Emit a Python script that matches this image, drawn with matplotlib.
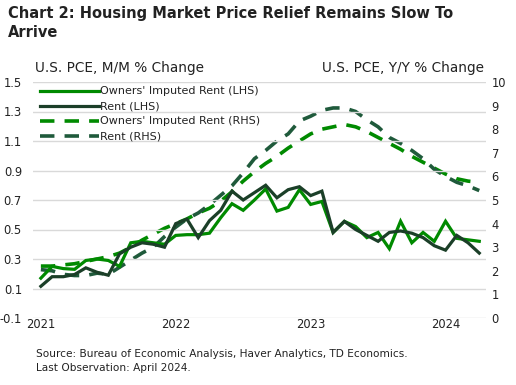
import matplotlib
matplotlib.use("Agg")
import matplotlib.pyplot as plt
import numpy as np
import pandas as pd

# ---- data (monthly, Jan 2021 - Apr 2024) ----
months = pd.date_range("2021-01-01", "2024-04-01", freq="MS")

owners_mm = [0.17, 0.25, 0.235, 0.23, 0.29, 0.30, 0.29, 0.25, 0.41, 0.42,
             0.41, 0.40, 0.46, 0.465, 0.465, 0.475, 0.58, 0.675, 0.63, 0.70,
             0.775, 0.625, 0.65, 0.77, 0.67, 0.69, 0.48, 0.555, 0.52, 0.445,
             0.48, 0.37, 0.556, 0.41, 0.48, 0.42, 0.556, 0.44, 0.43, 0.42]
rent_mm = [0.115, 0.18, 0.18, 0.195, 0.24, 0.21, 0.19, 0.335, 0.38, 0.41,
           0.40, 0.38, 0.54, 0.57, 0.445, 0.56, 0.63, 0.76, 0.70, 0.75,
           0.80, 0.715, 0.77, 0.79, 0.73, 0.76, 0.48, 0.555, 0.50, 0.46,
           0.42, 0.48, 0.49, 0.475, 0.445, 0.39, 0.36, 0.46, 0.41, 0.34]
owners_yy = [2.2, 2.2, 2.25, 2.3, 2.4, 2.5, 2.6, 2.75, 3.0, 3.3,
             3.55, 3.8, 4.0, 4.2, 4.45, 4.65, 4.95, 5.35, 5.8, 6.2,
             6.55, 6.85, 7.2, 7.5, 7.8, 8.0, 8.1, 8.2, 8.1, 7.9,
             7.65, 7.4, 7.15, 6.85, 6.6, 6.35, 6.1, 5.9, 5.8, 5.75]
rent_yy = [2.05, 2.0, 1.85, 1.8, 1.8, 1.9, 1.85, 2.15, 2.45, 2.75,
           3.0, 3.45, 3.85, 4.2, 4.45, 4.8, 5.2, 5.6, 6.15, 6.75,
           7.1, 7.5, 7.8, 8.35, 8.55, 8.8, 8.9, 8.9, 8.75, 8.4,
           8.1, 7.65, 7.4, 7.1, 6.75, 6.3, 6.0, 5.75, 5.6, 5.4]

left_ticks = [-0.1, 0.1, 0.3, 0.5, 0.7, 0.9, 1.1, 1.3, 1.5]
left_tick_labels = ["-0.1", "0.1", "0.3", "0.5", "0.7", "0.9", "1.1", "1.3", "1.5"]
right_ticks = list(range(0, 11))
year_ticks = ["2021", "2022", "2023", "2024"]

title = "Chart 2: Housing Market Price Relief Remains Slow To\nArrive"
left_label = "U.S. PCE, M/M % Change"
right_label = "U.S. PCE, Y/Y % Change"
source = "Source: Bureau of Economic Analysis, Haver Analytics, TD Economics.\nLast Observation: April 2024."

labels = ["Owners' Imputed Rent (LHS)", "Rent (LHS)",
          "Owners' Imputed Rent (RHS)", "Rent (RHS)"]

# ---- style ----
GREEN = "#008a00"
DARK = "#1b3f28"
DARKDASH = "#1f5a3b"
GRID = "#d9d9d9"
TXT = "#222222"
plt.rcParams["font.family"] = ["DejaVu Sans"]

fig = plt.figure(figsize=(5.16, 3.85), dpi=100)
ax = fig.add_axes([33/516, 1-318/385, (486-33)/516, (318-82)/385])
ax2 = ax.twinx()

x = np.arange(len(months))

lw_solid = 2.3
lw_dash = 2.6
dash = (4.0, 2.8)

l1, = ax.plot(x, owners_mm, color=GREEN, lw=lw_solid, solid_joinstyle="miter", zorder=3)
l2, = ax.plot(x, rent_mm, color=DARK, lw=lw_solid, solid_joinstyle="miter", zorder=4)
l3, = ax2.plot(x, owners_yy, color=GREEN, lw=lw_dash, dashes=dash, zorder=3)
l4, = ax2.plot(x, rent_yy, color=DARKDASH, lw=lw_dash, dashes=dash, zorder=4)

ax.set_xlim(-0.7, 39.6)
ax.set_ylim(-0.1, 1.5)
ax2.set_ylim(0, 10)

ax.set_yticks(left_ticks)
ax.set_yticklabels(left_tick_labels)
ax2.set_yticks(right_ticks)
ax.set_xticks([0, 12, 24, 36])
ax.set_xticklabels(year_ticks)

ax.grid(axis="y", color=GRID, lw=1.0)
ax.set_axisbelow(True)
for a in (ax, ax2):
    for s in a.spines.values():
        s.set_visible(False)
    a.tick_params(length=0, labelsize=8.3, colors=TXT)
ax.tick_params(axis="y", pad=8)
ax2.tick_params(axis="y", pad=4)
ax.tick_params(axis="x", pad=0)

ax2.patch.set_visible(False)
ax.set_zorder(ax2.get_zorder() + 1)
ax.patch.set_visible(False)

leg = ax.legend([l1, l2, l3, l4], labels, loc="upper left",
                bbox_to_anchor=(0.005, 1.0), frameon=False, fontsize=8.0,
                handlelength=5.3, handletextpad=0.15, labelspacing=0.45,
                borderaxespad=0.0, labelcolor=TXT)

fig.text(8/516, 1-6/385, title, fontsize=10.5, fontweight="bold", color=TXT,
         va="top", ha="left", linespacing=1.3)
fig.text(35/516, 1-68/385, left_label, fontsize=9.8, color=TXT, va="center", ha="left")
fig.text(484/516, 1-68/385, right_label, fontsize=9.8, color=TXT, va="center", ha="right")
fig.text(36/516, 1-361/385, source, fontsize=7.6, color=TXT, va="center", ha="left",
         linespacing=1.5)

fig.savefig("out.png", dpi=100)
